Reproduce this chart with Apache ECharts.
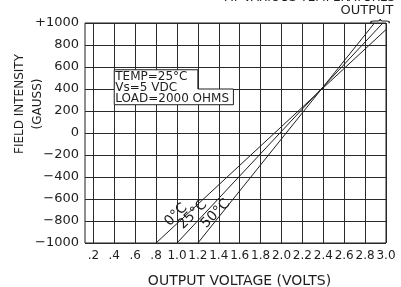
<!DOCTYPE html>
<html>
<head>
<meta charset="utf-8">
<script src="https://cdn.jsdelivr.net/npm/echarts@6/dist/echarts.min.js"></script>
<style>
  html, body { margin: 0; padding: 0; background: #fff; }
  #chart { width: 401px; height: 287px; }
</style>
</head>
<body>
<div id="chart"></div>
<script>
// output voltage (V) vs field intensity (gauss), one line per temperature
const temp0C = [[0.8, -1000], [3.0, 940]];
const temp25C = [[1.0, -1000], [2.97, 1000]];
const temp50C = [[1.2, -1000], [2.89, 1000]];

const xTicks = [0.2, 0.4, 0.6, 0.8, 1.0, 1.2, 1.4, 1.6, 1.8, 2.0, 2.2, 2.4, 2.6, 2.8, 3.0];
const yTicks = [-1000, -800, -600, -400, -200, 0, 200, 400, 600, 800, 1000];

const font = 'DejaVu Sans';
const ink = '#1e1e1e';

var myChart = echarts.init(document.getElementById('chart'));

function xLabel(v) {
    var s = v.toFixed(1);
    return v < 1 ? s.slice(1) : s;
}
function yLabel(v) {
    if (v === yTicks[yTicks.length - 1]) return '+' + v;
    if (v < 0) return '\u2212' + Math.abs(v);
    return String(v);
}

function tempLabel(text, coord) {
    return {
        symbolSize: 0,
        data: [{ coord: coord }],
        label: {
            show: true, formatter: text, rotate: 45,
            position: 'inside', color: ink, fontFamily: font, fontSize: 14
        }
    };
}

myChart.setOption({
    animation: false,
    grid: {
        left: 85, right: 15, top: 23, bottom: 44,
        outerBoundsMode: 'none', containLabel: false,
        show: true, borderColor: ink, borderWidth: 1
    },
    xAxis: {
        type: 'value', min: 0.12, max: 3.0,
        name: 'OUTPUT VOLTAGE (VOLTS)', nameLocation: 'middle', nameGap: 31,
        nameTextStyle: { fontFamily: font, fontSize: 14, color: ink, padding: [0, 0, 0, 8] },
        axisLine: { show: false },
        axisTick: { show: false, customValues: xTicks },
        axisLabel: {
            customValues: xTicks, formatter: xLabel, margin: 7,
            fontFamily: font, fontSize: 12, color: ink
        },
        splitLine: { show: true, lineStyle: { color: '#2a2a2a', width: 1 } }
    },
    yAxis: {
        type: 'value', min: -1000, max: 1000, interval: 200,
        axisLine: { show: false },
        axisTick: { show: false },
        axisLabel: {
            formatter: yLabel, margin: 6,
            fontFamily: font, fontSize: 13, color: ink
        },
        splitLine: { show: true, lineStyle: { color: '#2a2a2a', width: 1 } }
    },
    graphic: [
        {
            type: 'text', x: 29, y: 104, rotation: Math.PI / 2,
            style: {
                text: 'FIELD INTENSITY\n(GAUSS)', fill: ink, font: '12px "DejaVu Sans"',
                align: 'center', verticalAlign: 'middle', lineHeight: 18
            }
        },
        {
            type: 'text', x: 310, y: -2,
            style: {
                text: 'AT VARIOUS TEMPERATURES', fill: ink, font: '12px "DejaVu Sans"',
                align: 'center', verticalAlign: 'middle'
            }
        },
        {
            type: 'text', x: 367, y: 11,
            style: {
                text: 'OUTPUT', fill: ink, font: '13px "DejaVu Sans"',
                align: 'center', verticalAlign: 'middle'
            }
        },
        {
            type: 'text', x: 380, y: 21, rotation: -Math.PI / 2, scaleX: 0.5,
            style: {
                text: '{', fill: ink, font: '22px "DejaVu Sans"',
                align: 'center', verticalAlign: 'middle'
            }
        }
    ],
    series: [
        {
            name: 'box', type: 'line', z: 3, symbol: 'none', silent: true,
            lineStyle: { color: ink, width: 1 },
            data: [[0.4, 575], [1.2, 575], [1.2, 400], [1.54, 400], [1.54, 257], [0.4, 257], [0.4, 575]],
            markArea: {
                silent: true,
                itemStyle: { color: '#fff', borderWidth: 0 },
                data: [
                    [{ coord: [0.4, 575] }, { coord: [1.2, 257] }],
                    [{ coord: [0.4, 400] }, { coord: [1.54, 257] }]
                ]
            },
            markPoint: {
                symbolSize: 0,
                data: [{ coord: [0.4, 575] }],
                label: {
                    show: true, position: [1, 2], align: 'left', verticalAlign: 'top',
                    formatter: 'TEMP=25\u00b0C\nVs=5 VDC\nLOAD=2000 OHMS',
                    lineHeight: 11, color: ink, fontFamily: font, fontSize: 12
                }
            }
        },
        {
            name: '0\u00b0C', type: 'line', z: 4, symbol: 'none',
            lineStyle: { color: ink, width: 1 }, data: temp0C,
            markPoint: tempLabel('0\u00b0C', [0.99, -743])
        },
        {
            name: '25\u00b0C', type: 'line', z: 4, symbol: 'none',
            lineStyle: { color: ink, width: 1 }, data: temp25C,
            markPoint: tempLabel('25\u00b0C', [1.15, -743])
        },
        {
            name: '50\u00b0C', type: 'line', z: 4, symbol: 'none',
            lineStyle: { color: ink, width: 1 }, data: temp50C,
            markPoint: tempLabel('50\u00b0C', [1.37, -734])
        }
    ]
});
</script>
</body>
</html>
